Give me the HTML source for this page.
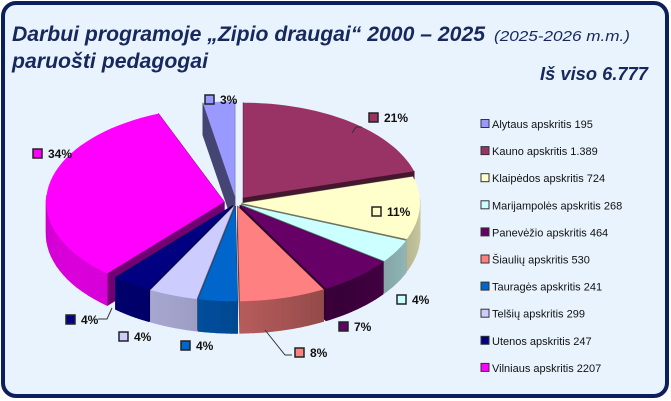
<!DOCTYPE html>
<html><head><meta charset="utf-8"><style>
html,body{margin:0;padding:0;background:#fff;}
svg{display:block;font-family:"Liberation Sans",sans-serif;}
</style></head><body>
<svg id="s" width="671" height="401" viewBox="0 0 671 401" xmlns="http://www.w3.org/2000/svg">
<rect x="3" y="3" width="664" height="393" rx="13" fill="#e9f3fd" stroke="#0b1f5c" stroke-width="4"/>
<text x="12" y="41" font-size="21" font-weight="bold" font-style="italic" fill="#17285e" textLength="473" lengthAdjust="spacingAndGlyphs">Darbui programoje „Zipio draugai“ 2000 – 2025</text>
<text x="494" y="41" font-size="15" font-style="italic" fill="#17285e" textLength="136" lengthAdjust="spacingAndGlyphs">(2025-2026 m.m.)</text>
<text x="12" y="68" font-size="21" font-weight="bold" font-style="italic" fill="#17285e" textLength="196" lengthAdjust="spacingAndGlyphs">paruošti pedagogai</text>
<text x="540" y="80" font-size="18" font-weight="bold" font-style="italic" fill="#17285e" textLength="108" lengthAdjust="spacingAndGlyphs">Iš viso 6.777</text>
<g id="pie"></g>
<g id="lab" font-size="12" font-weight="bold" fill="#111"></g>
<g id="leg" font-size="11" fill="#111"></g>
<polyline points="356,127 362,127" stroke="#333" fill="none"/>
<polyline points="352,133 356,127" stroke="#333" fill="none"/>
<polyline points="265,330 285,355 292,355" stroke="#333" fill="none"/>
<polyline points="98,319 107,319 112,308" stroke="#333" fill="none"/>
</svg>
<script>
var data=[["Alytaus apskritis  195",195,"#9999ff"],["Kauno apskritis 1.389",1389,"#993366"],["Klaipėdos apskritis  724",724,"#ffffcc"],["Marijampolės apskritis  268",268,"#ccffff"],["Panevėžio apskritis  464",464,"#660066"],["Šiaulių apskritis  530",530,"#ff8080"],["Tauragės apskritis  241",241,"#0066cc"],["Telšių apskritis  299",299,"#ccccff"],["Utenos apskritis 247",247,"#000080"],["Vilniaus apskritis  2207",2207,"#ff00ff"]];
var ex=[12,12,6,6,6,6,6,6,6,12];
var tot=6777,cx=236,cy=203,rx=178,ry=95,dep=32,NS="http://www.w3.org/2000/svg";
function shade(c,f){var n=parseInt(c.slice(1),16),r=n>>16,g=(n>>8)&255,b=n&255;return "rgb("+Math.round(r*f)+","+Math.round(g*f)+","+Math.round(b*f)+")";}
function P(ox,oy,t,dy){return [ox+rx*Math.sin(t),oy-ry*Math.cos(t)+(dy||0)];}
var a=-195/tot*2*Math.PI,slices=[];
data.forEach(function(d,i){var s=a,e=a+d[1]/tot*2*Math.PI;a=e;var m=(s+e)/2;
 var ox=cx+ex[i]*Math.sin(m),oy=cy-ex[i]*0.55*Math.cos(m);slices.push({s:s,e:e,m:m,ox:ox,oy:oy,c:d[2],i:i});});
var g=document.getElementById("pie");
function poly(pts,fill,st){var p=document.createElementNS(NS,"polygon");p.setAttribute("points",pts.map(function(q){return q[0].toFixed(1)+","+q[1].toFixed(1)}).join(" "));p.setAttribute("fill",fill);if(st){p.setAttribute("stroke",fill);p.setAttribute("stroke-width","0.8");p.setAttribute("stroke-linejoin","round");}g.appendChild(p);}
slices.slice().sort(function(A,B){return (-Math.cos(A.m))-(-Math.cos(B.m));}).forEach(function(S){
 var n=40,top=[],k;
 for(k=0;k<=n;k++)top.push(P(S.ox,S.oy,S.s+(S.e-S.s)*k/n));
 var C=[S.ox,S.oy];
 [S.s,S.e].forEach(function(t){var q=P(S.ox,S.oy,t);poly([C,q,[q[0],q[1]+dep],[C[0],C[1]+dep]],shade(S.c,0.45),true);});
 for(k=0;k<n;k++){var t=S.s+(S.e-S.s)*(k+0.5)/n;if(Math.cos(t)<0.05){var p1=top[k],p2=top[k+1];var f=0.55+0.3*Math.abs(Math.sin(t+0.6));poly([p1,p2,[p2[0],p2[1]+dep],[p1[0],p1[1]+dep]],shade(S.c,Math.min(f,0.85)),true);}}
 poly([C].concat(top),S.c,false);
});
var lab=[[2,"3%",204,94],[1,"21%",368,112],[2,"11%",371,206],[3,"4%",396,294],[4,"7%",338,321],[5,"8%",294,347],[6,"4%",180,340],[7,"4%",118,331],[8,"4%",65,314],[9,"34%",32,148]];
var L=document.getElementById("lab");
lab.forEach(function(l,j){var c=data[j][2];L.innerHTML+='<rect x="'+(l[2]+1)+'" y="'+(l[3]+1)+'" width="9" height="9" fill="'+c+'" stroke="#222" stroke-width="1.5"/><text x="'+(l[2]+16)+'" y="'+(l[3]+10)+'">'+l[1]+'</text>';});
var G=document.getElementById("leg");
data.forEach(function(d,j){var y=120+j*27.1;G.innerHTML+='<rect x="481" y="'+(y-0.5)+'" width="8" height="8" fill="'+d[2]+'" stroke="#333" stroke-width="1"/><text x="492" y="'+(y+8)+'">'+d[0]+'</text>';});
</script>
</body></html>
